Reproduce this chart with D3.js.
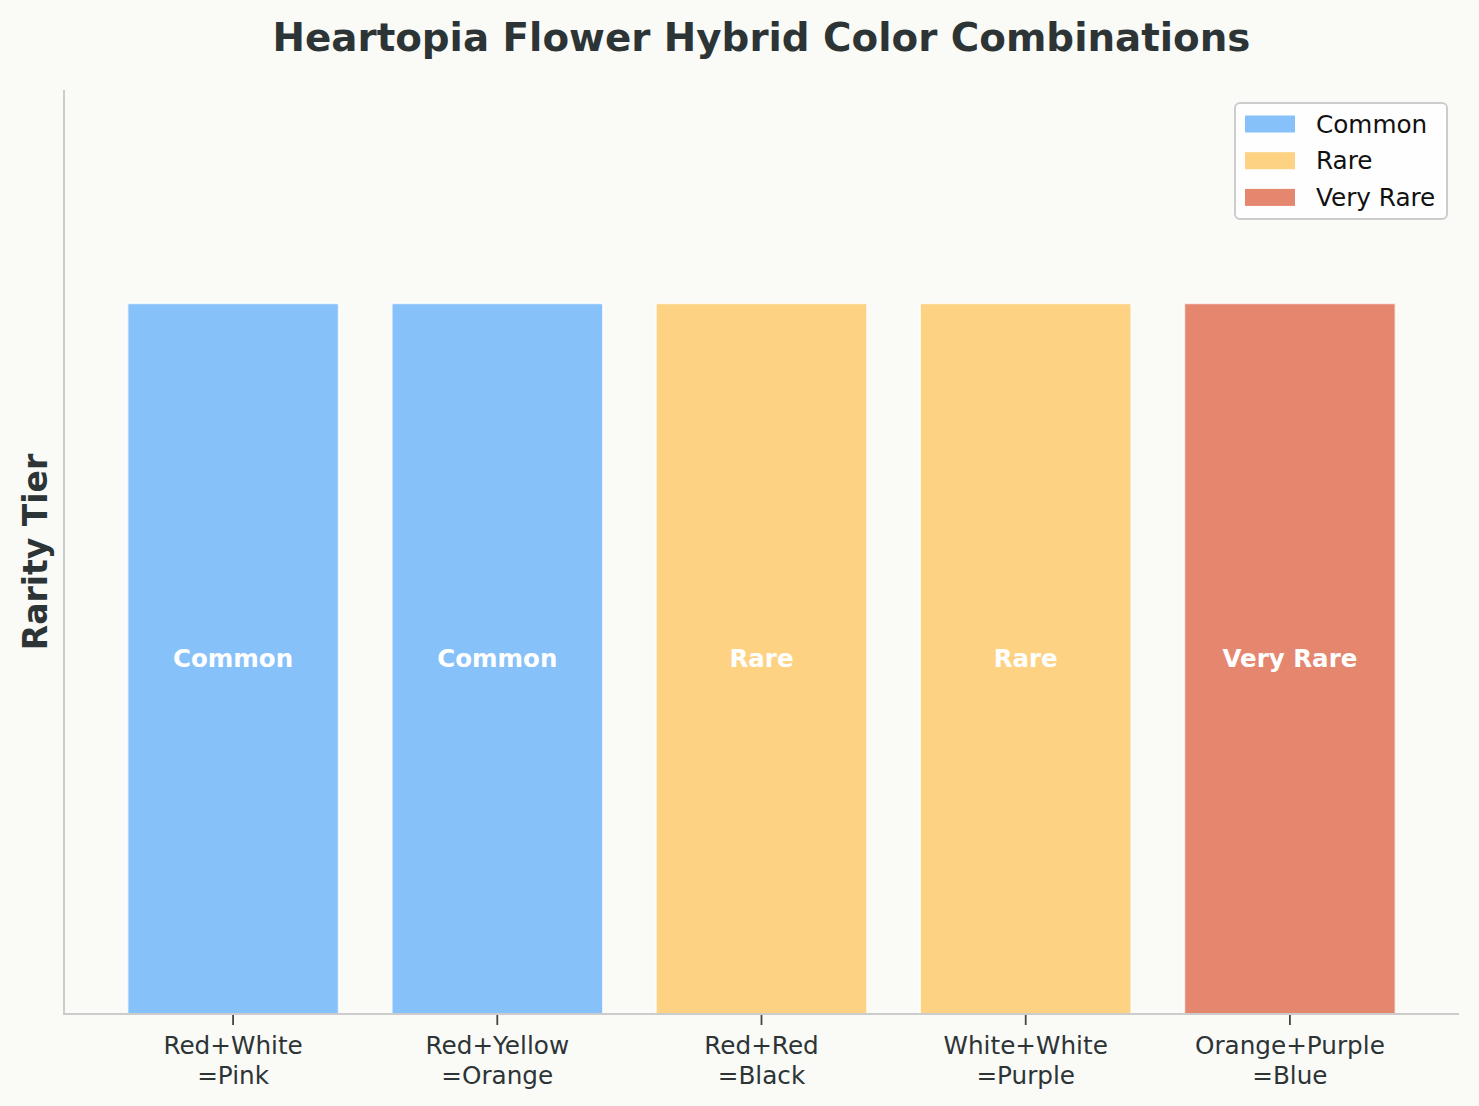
<!DOCTYPE html>
<html><head><meta charset="utf-8">
<script src="https://cdn.jsdelivr.net/npm/d3@7"></script>
<style>body{margin:0;background:#FAFAF7;}svg{display:block;font-family:"DejaVu Sans",sans-serif;}</style>
</head><body>
<script>
const categories = ["Red+White\n=Pink","Red+Yellow\n=Orange","Red+Red\n=Black","White+White\n=Purple","Orange+Purple\n=Blue"];
const tiers = ["Common","Common","Rare","Rare","Very Rare"];
const values = [1,1,1,1,1];
const tierNames = ["Common","Rare","Very Rare"];
const tierColors = ["#87C1FA","#FDD283","#E5866E"];

const W=1479,H=1106;
const m={left:64,right:20,top:90,bottom:92};
const svg=d3.select("body").append("svg").attr("width",W).attr("height",H);
svg.append("rect").attr("width",W).attr("height",H).attr("fill","#FAFAF7");
const x0=m.left,x1=W-m.right,y0=H-m.bottom,y1=m.top;
const x=d3.scaleLinear().domain([-0.64,4.64]).range([x0,x1]);
const y=d3.scaleLinear().domain([0,1.3]).range([y0,y1]);
const color=d3.scaleOrdinal().domain(tierNames).range(tierColors);
const bw=0.8;

svg.append("g").selectAll("rect").data(values).join("rect")
 .attr("x",(d,i)=>x(i-bw/2)).attr("width",(d,i)=>x(i+bw/2)-x(i-bw/2))
 .attr("y",d=>y(d)).attr("height",d=>y(0)-y(d))
 .attr("fill",(d,i)=>color(tiers[i])).attr("stroke","#ffffff").attr("stroke-opacity",0.8).attr("stroke-width",2);

svg.append("g").selectAll("text").data(values).join("text")
 .attr("x",(d,i)=>x(i)).attr("y",d=>y(d/2)).attr("dy","0.35em")
 .attr("text-anchor","middle").attr("fill","#fff").attr("font-weight","bold").attr("font-size","24.5px")
 .text((d,i)=>tiers[i]);

// spines
svg.append("line").attr("x1",x0).attr("x2",x0).attr("y1",y1).attr("y2",y0).attr("stroke","#cccccc").attr("stroke-width",2);
svg.append("line").attr("x1",x0-1).attr("x2",x1).attr("y1",y0).attr("y2",y0).attr("stroke","#cccccc").attr("stroke-width",2);

// x ticks
const gx=svg.append("g");
categories.forEach((c,i)=>{
  gx.append("line").attr("x1",x(i)).attr("x2",x(i)).attr("y1",y0+1).attr("y2",y0+11).attr("stroke","#444").attr("stroke-width",1.8);
  const t=gx.append("text").attr("x",x(i)).attr("y",y0+40).attr("text-anchor","middle").attr("fill","#2D3436").attr("font-size","24.7px");
  c.split("\n").forEach((l,k)=>t.append("tspan").attr("x",x(i)).attr("dy",k?29.5:0).text(l));
});

// title
svg.append("text").attr("x",(x0+x1)/2).attr("y",37).attr("dy","0.35em").attr("text-anchor","middle")
 .attr("font-weight","bold").attr("font-size","38.8px").attr("fill","#2D3436").text("Heartopia Flower Hybrid Color Combinations");

// y label
svg.append("text").attr("transform",`translate(35,${(y0+y1)/2}) rotate(-90)`).attr("dy","0.35em").attr("text-anchor","middle")
 .attr("font-weight","bold").attr("font-size","33px").attr("fill","#2D3436").text("Rarity Tier");

// legend
const lg=svg.append("g");
lg.append("rect").attr("x",1235).attr("y",103).attr("width",212).attr("height",116).attr("rx",5)
 .attr("fill","#ffffff").attr("fill-opacity",0.8).attr("stroke","#cccccc").attr("stroke-width",2);
tierNames.forEach((n,i)=>{
  const cy=124+i*36.7;
  lg.append("rect").attr("x",1245).attr("y",cy-8.5).attr("width",50).attr("height",17).attr("fill",color(n));
  lg.append("text").attr("x",1316).attr("y",cy).attr("dy","0.35em").attr("font-size","24.7px").attr("fill","#111").text(n);
});
</script>
</body></html>
